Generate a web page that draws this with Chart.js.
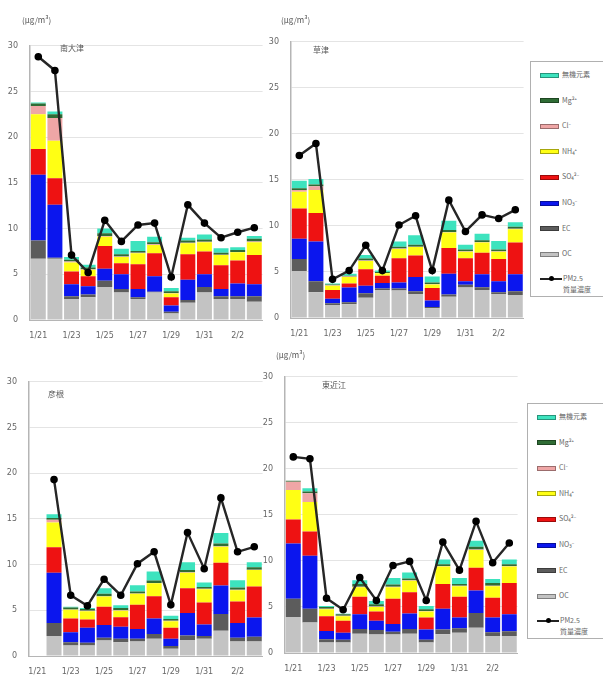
<!DOCTYPE html>
<html>
<head>
<meta charset="utf-8">
<script src="https://cdn.jsdelivr.net/npm/chart.js@4.4.0/dist/chart.umd.min.js"></script>
<style>
body{margin:0;background:#fff;width:603px;height:675px;position:relative;overflow:hidden;font-family:"Noto Sans CJK JP","Noto Sans",sans-serif;}
canvas{position:absolute;}
.t{position:absolute;font-size:8px;color:#555;white-space:nowrap;line-height:1;}
.legend{position:absolute;border:1px solid #b0b0b0;background:#fff;box-sizing:border-box;}
.item{position:absolute;left:9px;font-size:7px;color:#666;white-space:nowrap;line-height:1;}
.sw{display:inline-block;width:19px;height:5px;vertical-align:middle;margin-right:3px;box-sizing:border-box;border:1px solid rgba(0,0,0,0.35);}
</style>
</head>
<body>
<canvas id="c1"></canvas>
<canvas id="c2"></canvas>
<canvas id="c3"></canvas>
<canvas id="c4"></canvas>
<script>
// categories
const dates = ["1/21","1/22","1/23","1/24","1/25","1/26","1/27","1/28","1/29","1/30","1/31","2/1","2/2","2/3"];
// components, bottom of the stack first
const names = ["OC","EC","NO₃⁻","SO₄²⁻","NH₄⁺","Cl⁻","Mg²⁺","無機元素"];
const colors = ["#c3c3c3","#5c5c5c","#0b16ee","#ee1212","#ffff14","#efa6a6","#2f6c35","#3de3be"];
const pmName = "PM2.5";
const pmName2 = "質量濃度";
const unitText = "(μg/m³)";

// station 1 (top left)
const s1Name = "南大津";
const s1OC  = [6.7, 6.7, 2.3, 2.5, 3.6, 3.0, 2.3, 3.0, 0.7, 1.9, 3.0, 2.3, 2.3, 2.0];
const s1EC  = [2.0, 0.1, 0.3, 0.3, 0.7, 0.4, 0.2, 0.1, 0.2, 0.3, 0.6, 0.3, 0.3, 0.6];
const s1NO3 = [7.2, 5.8, 1.3, 0.9, 1.3, 1.6, 0.9, 1.7, 0.7, 2.2, 1.4, 0.8, 1.4, 1.3];
const s1SO4 = [2.8, 2.9, 1.4, 1.1, 2.5, 1.2, 2.7, 2.5, 0.9, 2.8, 2.5, 2.6, 2.5, 3.2];
const s1NH4 = [3.8, 4.1, 1.0, 0.7, 1.0, 0.7, 1.2, 0.9, 0.4, 1.2, 1.0, 1.1, 0.9, 1.4];
const s1Cl  = [0.9, 2.5, 0.1, 0.05, 0.1, 0.05, 0.05, 0.1, 0.05, 0.05, 0.05, 0.05, 0.05, 0.1];
const s1Mg  = [0.3, 0.4, 0.2, 0.2, 0.3, 0.25, 0.2, 0.2, 0.2, 0.25, 0.25, 0.2, 0.2, 0.3];
const s1El  = [0.1, 0.3, 0.3, 0.3, 0.5, 0.6, 1.1, 0.6, 0.35, 0.3, 0.55, 0.5, 0.3, 0.3];
const s1PM  = [28.8, 27.3, 7.1, 5.2, 10.9, 8.6, 10.4, 10.6, 4.7, 12.6, 10.6, 9.0, 9.6, 10.1];

// station 2 (top right)
const s2Name = "草津";
const s2OC  = [5.1, 2.8, 1.4, 1.5, 2.2, 3.05, 3.0, 2.6, 1.05, 2.3, 3.3, 3.05, 2.6, 2.5];
const s2EC  = [1.3, 1.2, 0.2, 0.2, 0.5, 0.15, 0.2, 0.3, 0.15, 0.25, 0.3, 0.3, 0.2, 0.4];
const s2NO3 = [2.2, 4.3, 0.5, 1.6, 0.8, 0.6, 0.65, 1.55, 0.7, 2.25, 0.4, 1.4, 1.2, 1.85];
const s2SO4 = [3.3, 3.1, 0.95, 0.45, 1.8, 0.8, 2.65, 2.35, 1.35, 2.8, 2.5, 2.35, 2.4, 3.45];
const s2NH4 = [1.8, 2.5, 0.45, 0.7, 0.9, 0.25, 1.0, 0.9, 0.4, 1.7, 0.7, 1.1, 0.8, 1.45];
const s2Cl  = [0.2, 0.4, 0.05, 0.05, 0.05, 0.05, 0.05, 0.05, 0.05, 0.05, 0.05, 0.05, 0.05, 0.05];
const s2Mg  = [0.2, 0.2, 0.1, 0.1, 0.2, 0.1, 0.2, 0.2, 0.15, 0.2, 0.2, 0.2, 0.2, 0.2];
const s2El  = [0.8, 0.6, 0.1, 0.2, 0.4, 0.15, 0.55, 1.05, 0.65, 1.0, 0.5, 0.7, 0.9, 0.5];
const s2PM  = [17.65, 18.95, 4.2, 5.15, 7.9, 5.15, 10.1, 11.1, 5.15, 12.8, 9.4, 11.2, 10.8, 11.75];

// station 3 (bottom left), no sample on 1/21
const s3Name = "彦根";
const s3OC  = [null, 2.2, 1.15, 1.15, 1.7, 1.5, 1.6, 1.9, 0.8, 1.75, 1.9, 2.75, 1.6, 1.6];
const s3EC  = [null, 1.4, 0.35, 0.3, 0.3, 0.4, 0.3, 0.5, 0.3, 0.5, 0.3, 1.85, 0.4, 0.5];
const s3NO3 = [null, 5.5, 1.1, 1.65, 1.4, 1.3, 1.05, 1.7, 0.8, 2.45, 1.25, 3.1, 1.6, 2.1];
const s3SO4 = [null, 2.8, 1.5, 0.9, 2.0, 1.05, 2.65, 2.45, 1.2, 2.7, 2.4, 2.5, 2.35, 3.4];
const s3NH4 = [null, 2.7, 0.95, 0.9, 1.1, 0.7, 1.2, 1.4, 0.7, 1.7, 1.45, 1.75, 1.25, 1.8];
const s3Cl  = [null, 0.3, 0.05, 0.05, 0.05, 0.05, 0.05, 0.05, 0.05, 0.05, 0.05, 0.05, 0.05, 0.05];
const s3Mg  = [null, 0.2, 0.2, 0.2, 0.25, 0.25, 0.2, 0.25, 0.2, 0.25, 0.2, 0.3, 0.25, 0.25];
const s3El  = [null, 0.4, 0.1, 0.1, 0.6, 0.3, 0.7, 1.0, 0.35, 0.85, 0.5, 1.15, 0.8, 0.55];
const s3PM  = [null, 19.3, 6.65, 5.5, 8.4, 6.65, 10.1, 11.4, 5.6, 13.5, 9.55, 17.3, 11.4, 11.95];

// station 4 (bottom right)
const s4Name = "東近江";
const s4OC  = [3.9, 3.3, 1.15, 1.15, 2.1, 2.0, 2.0, 2.1, 1.15, 2.05, 2.2, 2.75, 1.85, 1.85];
const s4EC  = [2.0, 1.5, 0.35, 0.3, 0.5, 0.5, 0.3, 0.5, 0.3, 0.5, 0.5, 1.6, 0.4, 0.5];
const s4NO3 = [6.0, 5.75, 0.9, 0.75, 1.6, 1.0, 0.85, 1.7, 1.1, 2.25, 1.15, 2.45, 1.6, 1.85];
const s4SO4 = [2.6, 2.65, 1.6, 1.3, 1.9, 1.0, 2.75, 2.3, 1.3, 2.7, 2.25, 2.45, 2.15, 3.4];
const s4NH4 = [3.2, 3.2, 0.75, 0.5, 1.05, 0.5, 1.25, 1.25, 0.65, 1.9, 1.15, 1.95, 1.25, 1.8];
const s4Cl  = [0.9, 0.95, 0.05, 0.05, 0.05, 0.05, 0.05, 0.05, 0.05, 0.05, 0.05, 0.05, 0.05, 0.05];
const s4Mg  = [0.1, 0.2, 0.2, 0.15, 0.3, 0.25, 0.25, 0.2, 0.2, 0.2, 0.2, 0.3, 0.3, 0.2];
const s4El  = [0.0, 0.35, 0.1, 0.05, 0.4, 0.35, 0.7, 0.65, 0.35, 0.5, 0.65, 0.65, 0.45, 0.5];
const s4PM  = [21.3, 21.1, 5.95, 4.7, 8.2, 5.7, 9.5, 9.95, 5.7, 12.05, 9.0, 14.3, 9.8, 11.95];

const yTicks = [0, 5, 10, 15, 20, 25, 30];

// helper to put a bit of text on the page
function addText(txt, x, y, cls) {
    const d = document.createElement("div");
    d.className = cls || "t";
    d.textContent = txt;
    d.style.left = x + "px";
    d.style.top = y + "px";
    document.body.appendChild(d);
    return d;
}

function drawPanel(id, box, parts, pm) {
    const padTop = 8, padRight = 6, yw = 30, xh = 22;
    const cv = document.getElementById(id);
    const w = box.x1 - box.x0 + yw + padRight;
    const h = box.y1 - box.y0 + padTop + xh;
    cv.width = w; cv.height = h;
    cv.style.left = (box.x0 - yw) + "px";
    cv.style.top = (box.y0 - padTop) + "px";

    const datasets = parts.map((arr, i) => ({
        type: "bar",
        label: names[i],
        data: arr,
        backgroundColor: colors[i],
        borderWidth: 0,
        stack: "comp",
        order: 1,
        barPercentage: 0.9,
        categoryPercentage: 1
    }));
    datasets.push({
        type: "line",
        label: pmName,
        data: pm,
        borderColor: "#262626",
        borderWidth: 2.4,
        pointRadius: 2.6,
        pointBackgroundColor: "#000",
        pointBorderColor: "#000",
        tension: 0,
        stack: "pm",
        order: 0
    });

    new Chart(cv.getContext("2d"), {
        type: "bar",
        data: { labels: dates, datasets },
        options: {
            responsive: false,
            animation: false,
            layout: { padding: { top: padTop, right: padRight, left: 0, bottom: 0 } },
            plugins: { legend: { display: false }, tooltip: { enabled: false } },
            scales: {
                x: {
                    stacked: true,
                    grid: { display: false },
                    border: { color: "#b5b5b5", width: 1 },
                    afterFit: (s) => { s.height = xh; },
                    ticks: {
                        autoSkip: false, maxRotation: 0, padding: 3,
                        color: "#666", font: { size: 8, family: "'DejaVu Sans'" },
                        callback: (v, i) => (i % 2 === 0 ? dates[i] : "")
                    }
                },
                y: {
                    stacked: true,
                    min: 0, max: 30,
                    afterFit: (s) => { s.width = yw; },
                    afterBuildTicks: (s) => { s.ticks = yTicks.map(v => ({ value: v })); },
                    grid: { color: "#e4e4e4", lineWidth: 1, drawTicks: false },
                    border: { color: "#b5b5b5", width: 1.5 },
                    ticks: { padding: 12, color: "#666", font: { size: 8, family: "'DejaVu Sans'" } }
                }
            }
        }
    });
}

function drawLegend(x, y) {
    const lg = document.createElement("div");
    lg.className = "legend";
    lg.style.left = x + "px";
    lg.style.top = y + "px";
    lg.style.width = (603 - x + 2) + "px";
    lg.style.height = "236px";
    document.body.appendChild(lg);
    for (let k = 0; k < names.length; k++) {
        const i = names.length - 1 - k;
        const it = document.createElement("div");
        it.className = "item";
        it.style.top = (9 + k * 25.6) + "px";
        const sw = document.createElement("span");
        sw.className = "sw";
        sw.style.background = colors[i];
        it.appendChild(sw);
        it.appendChild(document.createTextNode(names[i]));
        lg.appendChild(it);
    }
    const it = document.createElement("div");
    it.className = "item";
    it.style.top = (9 + 8 * 25.6 - 1) + "px";
    it.innerHTML = '<span style="display:inline-block;position:relative;width:22px;height:6px;vertical-align:middle;margin-right:1px;">' +
        '<span style="position:absolute;left:0;top:2px;width:22px;height:2px;background:#222"></span>' +
        '<span style="position:absolute;left:9px;top:0;width:5px;height:5px;border-radius:50%;background:#000"></span></span>';
    it.appendChild(document.createTextNode(pmName));
    lg.appendChild(it);
    const it2 = document.createElement("div");
    it2.className = "item";
    it2.style.top = (9 + 8 * 25.6 + 10) + "px";
    it2.style.left = "32px";
    it2.textContent = pmName2;
    lg.appendChild(it2);
}

drawPanel("c1", { x0: 30, x1: 263, y0: 37, y1: 320 }, [s1OC, s1EC, s1NO3, s1SO4, s1NH4, s1Cl, s1Mg, s1El], s1PM);
drawPanel("c2", { x0: 291, x1: 524, y0: 33, y1: 318 }, [s2OC, s2EC, s2NO3, s2SO4, s2NH4, s2Cl, s2Mg, s2El], s2PM);
drawPanel("c3", { x0: 29, x1: 263, y0: 373, y1: 656 }, [s3OC, s3EC, s3NO3, s3SO4, s3NH4, s3Cl, s3Mg, s3El], s3PM);
drawPanel("c4", { x0: 285, x1: 518, y0: 368, y1: 653 }, [s4OC, s4EC, s4NO3, s4SO4, s4NH4, s4Cl, s4Mg, s4El], s4PM);

addText(s1Name, 60, 44);
addText(s2Name, 313, 46);
addText(s3Name, 48, 390);
addText(s4Name, 322, 381);
addText(unitText, 22, 16);
addText(unitText, 281, 16);
addText(unitText, 276, 351);

drawLegend(530, 61);
drawLegend(527, 403);
</script>
</body>
</html>
